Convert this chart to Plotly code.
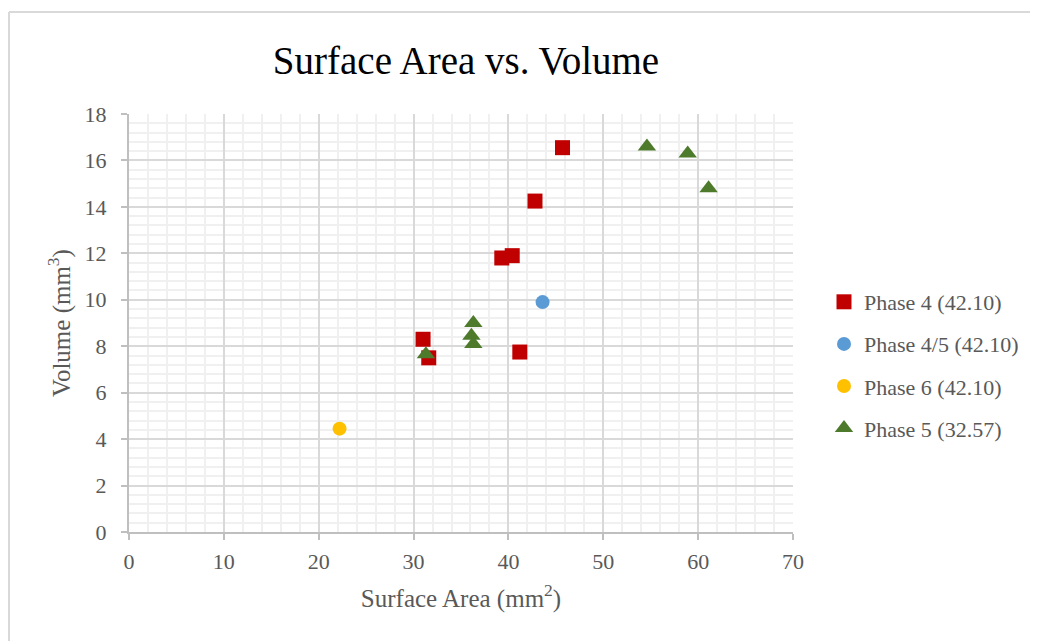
import plotly.graph_objects as go

# Data
phase4_x = [45.7, 42.8, 39.3, 40.4, 31.0, 31.6, 41.2]
phase4_y = [16.55, 14.25, 11.8, 11.9, 8.3, 7.5, 7.75]

phase45_x = [43.6]
phase45_y = [9.9]

phase6_x = [22.2]
phase6_y = [4.45]

phase5_x = [31.3, 36.3, 36.1, 36.3, 54.6, 58.9, 61.1]
phase5_y = [7.65, 9.0, 8.45, 8.1, 16.6, 16.3, 14.8]

series_names = ["Phase 4 (42.10)", "Phase 4/5 (42.10)", "Phase 6 (42.10)", "Phase 5 (32.57)"]

FONT = "Liberation Serif, Times New Roman, serif"
GRAY = "#595959"

OFF = 8  # page body margin
W, H = 1038 - OFF, 641 - OFF
L, T = 129 - OFF, 114 - OFF
R = W - (793 - OFF)
B = H - (532 - OFF)
pw, ph = W - L - R, H - T - B

def px(xs):  # screenshot x -> paper x
    return (xs - 129) / pw

def py(ys):  # screenshot y -> paper y
    return (532 - ys) / ph

fig = go.Figure()
fig.add_trace(go.Scatter(x=phase4_x, y=phase4_y, mode="markers", name=series_names[0],
                         legendgroup="a",
                         marker=dict(symbol="square", size=15, color="#C00000")))
fig.add_trace(go.Scatter(x=phase45_x, y=phase45_y, mode="markers", name=series_names[1],
                         legendgroup="b",
                         marker=dict(symbol="circle", size=14, color="#5B9BD5")))
fig.add_trace(go.Scatter(x=phase6_x, y=phase6_y, mode="markers", name=series_names[2],
                         legendgroup="c",
                         marker=dict(symbol="circle", size=14, color="#FFC000")))
fig.add_trace(go.Scatter(x=phase5_x, y=phase5_y, mode="markers", name=series_names[3],
                         legendgroup="d",
                         marker=dict(symbol="triangle-up", size=16, color="#4E7A2C")))

axis_common = dict(
    showline=True, linecolor="#bfbfbf", linewidth=2,
    ticks="outside", ticklen=6, tickcolor="#bfbfbf", tickwidth=2,
    showgrid=True, gridcolor="#d9d9d9", gridwidth=2,
    zeroline=False,
    tickfont=dict(family=FONT, size=22, color=GRAY),
)

fig.update_xaxes(range=[0, 70], dtick=10, tick0=0,
                 minor=dict(dtick=2, showgrid=True, gridcolor="#f0f0f0", gridwidth=2, ticks=""),
                 title=dict(text="Surface Area (mm<sup>2</sup>)", font=dict(family=FONT, size=25, color=GRAY),
                            standoff=16),
                 ticklabelstandoff=3,
                 **axis_common)
fig.update_yaxes(range=[0, 18], dtick=2, tick0=0,
                 minor=dict(dtick=0.4, showgrid=True, gridcolor="#f0f0f0", gridwidth=2, ticks=""),
                 title=dict(text="Volume (mm<sup>3</sup>)", font=dict(family=FONT, size=25, color=GRAY),
                            standoff=7),
                 ticklabelstandoff=10,
                 **axis_common)

# light gray chart border (only top and left edges are visible in the picture)
fig.add_shape(type="line", xref="paper", yref="paper",
              x0=px(9), x1=px(1060), y0=py(12), y1=py(12),
              line=dict(color="#d9d9d9", width=2), layer="below")
fig.add_shape(type="line", xref="paper", yref="paper",
              x0=px(9), x1=px(9), y0=py(12), y1=py(660),
              line=dict(color="#d9d9d9", width=2), layer="below")

fig.update_layout(
    width=W, height=H,
    margin=dict(l=L, r=R, t=T, b=B),
    paper_bgcolor="white", plot_bgcolor="white",
    title=dict(text="Surface Area vs. Volume", x=(466 - OFF) / W, xanchor="center",
               y=1 - (60 - OFF) / H, yanchor="middle", xref="container", yref="container",
               font=dict(family=FONT, size=39, color="#000000")),
    showlegend=True,
    legend=dict(x=px(824), xanchor="left", y=py(365), yanchor="middle",
                traceorder="grouped", tracegroupgap=10.5,
                font=dict(family=FONT, size=22, color=GRAY),
                bgcolor="rgba(0,0,0,0)", itemwidth=30),
)

fig.write_html("out.html")
